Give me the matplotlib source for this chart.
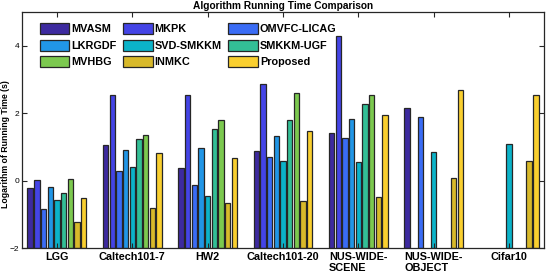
import numpy as np
import matplotlib
matplotlib.use("Agg")
import matplotlib.pyplot as plt

plt.rcParams['font.family'] = ['Liberation Sans', 'DejaVu Sans']

datasets = ['LGG', 'Caltech101-7', 'HW2', 'Caltech101-20',
            'NUS-WIDE-\nSCENE', 'NUS-WIDE-\nOBJECT', 'Cifar10']
methods = ['MVASM', 'MKPK', 'OMVFC-LICAG', 'LKRGDF', 'SVD-SMKKM',
           'SMKKM-UGF', 'MVHBG', 'INMKC', 'Proposed']
colors = ['#3d2a9f', '#4444e6', '#3a6cf5', '#2196e6', '#0bb3c9',
          '#33bf96', '#7cc94f', '#d8b92a', '#f9cf2f']

nan = np.nan
# log running time, one list per method (order of datasets above)
mvasm    = [-0.22, 1.05, 0.37, 0.88, 1.42, 2.16, nan]
mkpk     = [0.03, 2.53, 2.55, 2.88, 4.30, nan, nan]
omvfc    = [-0.83, 0.28, -0.14, 0.71, 1.27, 1.89, nan]
lkrgdf   = [-0.20, 0.91, 0.98, 1.32, 1.84, nan, nan]
svd      = [-0.57, 0.40, -0.44, 0.58, 0.56, 0.84, 1.09]
smkkm    = [-0.36, 1.25, 1.52, 1.81, 2.27, nan, nan]
mvhbg    = [0.04, 1.36, 1.79, 2.59, 2.55, nan, nan]
inmkc    = [-1.23, -0.82, -0.66, -0.59, -0.49, 0.09, 0.57]
proposed = [-0.51, 0.81, 0.68, 1.48, 1.95, 2.69, 2.55]
values = [mvasm, mkpk, omvfc, lkrgdf, svd, smkkm, mvhbg, inmkc, proposed]

fig = plt.figure(figsize=(5.47, 2.76), dpi=100)
ax = fig.add_axes([0.040, 0.101, 0.954, 0.855])

base = -2
n = len(methods)
step = 0.8 / n
x = np.arange(1, len(datasets) + 1)
handles = []
for i, (vals, c) in enumerate(zip(values, colors)):
    v = np.array(vals, dtype=float)
    pos = x - 0.4 + (2 * i + 1) * step / 2
    h = ax.bar(pos, v - base, bottom=base, width=0.8 * step, color=c,
               edgecolor='#262626', linewidth=0.9, label=methods[i])
    handles.append(h)

ax.set_xlim(0.535, 7.46)
ax.set_ylim(-2, 5)
ax.set_xticks(x)
ax.set_xticklabels(datasets, fontsize=7.8, fontweight='bold',
                   multialignment='left', linespacing=1.15)
ax.set_yticks([-2, 0, 2, 4])
ax.tick_params(axis='y', labelsize=6, direction='in', right=True, length=3.5,
               pad=2, color='#262626')
ax.tick_params(axis='x', direction='in', top=True, length=3.5, pad=2.5,
               color='#262626')
for s in ax.spines.values():
    s.set_color('#262626')
    s.set_linewidth(0.9)

ax.set_ylabel('Logarithm of Running Time (s)', fontsize=6.3, fontweight='bold')
ax.yaxis.set_label_coords(-0.022, 0.44)
ax.set_title('Algorithm Running Time Comparison', fontsize=7.3,
             fontweight='bold', pad=2)

# legend reads row-wise in the reference; matplotlib fills by column
order = [0, 3, 6, 1, 4, 7, 2, 5, 8]
ax.legend([handles[k] for k in order], [methods[k] for k in order],
          ncol=3, loc='upper left', bbox_to_anchor=(0.035, 0.953),
          frameon=False, borderpad=0, borderaxespad=0,
          prop={'size': 7.8, 'weight': 'bold'}, handlelength=2.7,
          handleheight=1.2, handletextpad=0.2, labelspacing=0.48,
          columnspacing=0.6)

fig.savefig('out.png', dpi=100)
